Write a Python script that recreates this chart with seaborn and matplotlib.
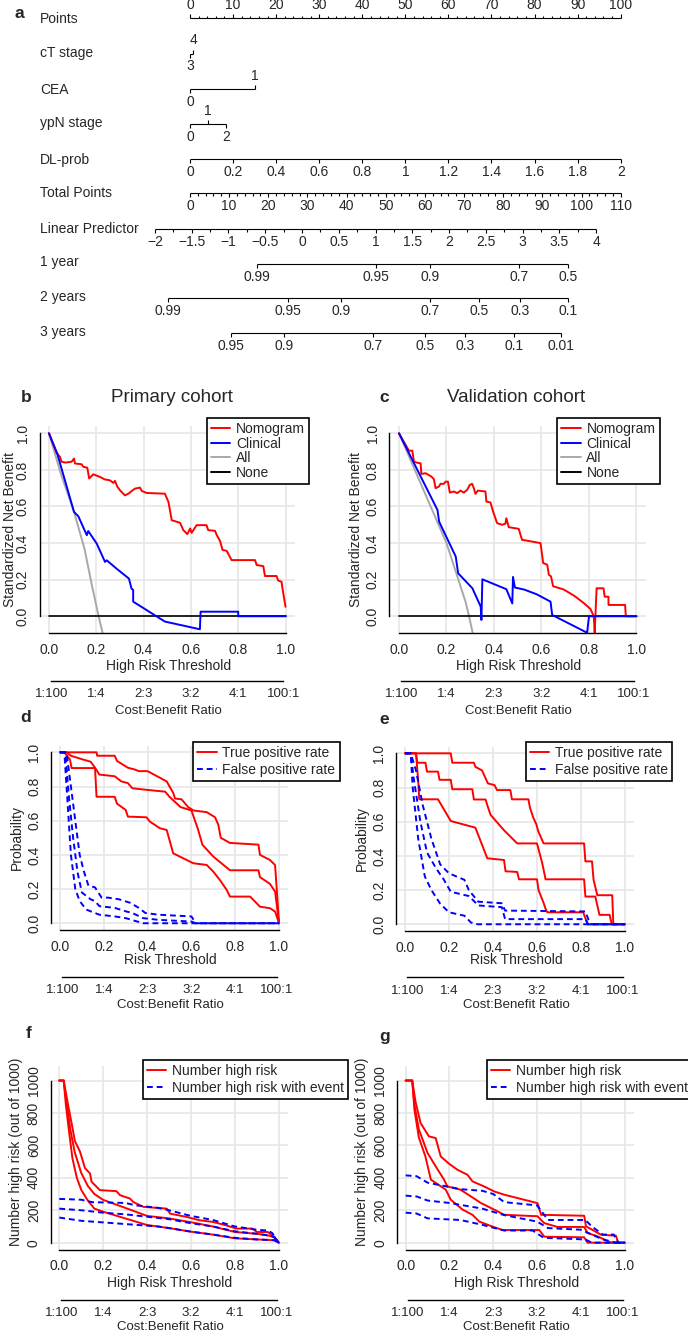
import matplotlib
matplotlib.use('Agg')
import matplotlib.pyplot as plt
from matplotlib.lines import Line2D
import seaborn as sns

sns.set_style('white')
plt.rcParams['font.family'] = ['Liberation Sans', 'DejaVu Sans']

W, H = 688, 1332
RED, BLUE, GREY = '#FF0000', '#0000FF', '#A8A8A8'
FS = 10

# ---------------- panel a: nomogram ----------------
points_values = list(range(0, 101, 10))
ct_labels = ['3', '4']
ct_points = [0, 0.7]
cea_labels = ['0', '1']
cea_points = [0, 15]
ypn_labels = ['0', '1', '2']
ypn_points = [0, 4.2, 8.4]
dl_values = [0, 0.2, 0.4, 0.6, 0.8, 1, 1.2, 1.4, 1.6, 1.8, 2]
total_values = list(range(0, 111, 10))
lp_values = [-2, -1.5, -1, -0.5, 0, 0.5, 1, 1.5, 2, 2.5, 3, 3.5, 4]
lp_zero_points = 26.0      # nomogram points where linear predictor = 0
lp_points_per_unit = 17.07
surv1_labels = ['0.99', '0.95', '0.9', '0.7', '0.5']
surv1_lp = [-0.612, 1.011, 1.741, 2.952, 3.623]
surv2_labels = ['0.99', '0.95', '0.9', '0.7', '0.5', '0.3', '0.1']
surv2_lp = [-1.819, -0.186, 0.531, 1.741, 2.408, 2.962, 3.615]
surv3_labels = ['0.95', '0.9', '0.7', '0.5', '0.3', '0.1', '0.01']
surv3_lp = [-0.966, -0.249, 0.966, 1.673, 2.218, 2.880, 3.528]

# ---------------- panels b/c: decision curves ----------------
b_nomo_x = [0, 0.032, 0.046, 0.053, 0.07, 0.096, 0.106, 0.11, 0.138, 0.145, 0.162, 0.17, 0.187, 0.215, 0.236,
            0.258, 0.272, 0.279, 0.289, 0.30, 0.321, 0.336, 0.35, 0.364, 0.385, 0.392, 0.413, 0.49, 0.505, 0.519,
            0.554, 0.568, 0.585, 0.597, 0.603, 0.624, 0.666, 0.673, 0.702, 0.709, 0.723, 0.734, 0.751, 0.772, 0.871,
            0.878, 0.906, 0.913, 0.962, 0.969, 0.983, 0.987, 1.0]
b_nomo_y = [1.0, 0.894, 0.872, 0.845, 0.84, 0.845, 0.862, 0.835, 0.831, 0.817, 0.812, 0.753, 0.776, 0.762, 0.748,
            0.743, 0.729, 0.74, 0.708, 0.689, 0.661, 0.67, 0.685, 0.698, 0.703, 0.685, 0.674, 0.67, 0.625, 0.525,
            0.511, 0.471, 0.449, 0.48, 0.456, 0.498, 0.498, 0.471, 0.467, 0.444, 0.412, 0.362, 0.358, 0.307, 0.307,
            0.28, 0.274, 0.22, 0.22, 0.195, 0.189, 0.152, 0.052]
b_clin_x = [0, 0.035, 0.106, 0.124, 0.16, 0.166, 0.202, 0.237, 0.244, 0.286, 0.338, 0.349, 0.356, 0.356, 0.49,
            0.638, 0.641, 0.80, 0.80, 1.0]
b_clin_y = [1.0, 0.889, 0.57, 0.547, 0.443, 0.466, 0.397, 0.297, 0.306, 0.26, 0.206, 0.151, 0.144, 0.08, -0.029,
            -0.071, 0.025, 0.025, 0.0, 0.0]
b_all_x = [0, 0.05, 0.106, 0.15, 0.183, 0.21, 0.227]
b_all_y = [1.0, 0.78, 0.57, 0.37, 0.16, 0.0, -0.093]

c_nomo_x = [0, 0.042, 0.056, 0.063, 0.074, 0.091, 0.094, 0.112, 0.136, 0.147, 0.154, 0.168, 0.175, 0.189, 0.196,
            0.206, 0.214, 0.231, 0.245, 0.259, 0.273, 0.287, 0.298, 0.308, 0.315, 0.322, 0.332, 0.364, 0.368, 0.385,
            0.396, 0.413, 0.434, 0.448, 0.452, 0.462, 0.504, 0.518, 0.596, 0.607, 0.624, 0.631, 0.64, 0.649, 0.694,
            0.74, 0.78, 0.806, 0.82, 0.824, 0.832, 0.836, 0.861, 0.866, 0.882, 0.882, 0.952, 0.955, 1.0]
c_nomo_y = [1.0, 0.905, 0.905, 0.845, 0.84, 0.836, 0.778, 0.782, 0.764, 0.749, 0.70, 0.709, 0.724, 0.724, 0.736,
            0.736, 0.676, 0.682, 0.673, 0.687, 0.676, 0.691, 0.718, 0.724, 0.70, 0.669, 0.687, 0.682, 0.627, 0.622,
            0.573, 0.509, 0.50, 0.506, 0.536, 0.487, 0.478, 0.418, 0.40, 0.291, 0.282, 0.227, 0.218, 0.164, 0.146,
            0.11, 0.07, 0.04, 0.0, -0.09, 0.153, 0.153, 0.153, 0.107, 0.107, 0.062, 0.062, 0.0, 0.0]
c_clin_x = [0, 0.162, 0.169, 0.239, 0.249, 0.309, 0.344, 0.347, 0.351, 0.452, 0.477, 0.48, 0.488, 0.527, 0.58,
            0.638, 0.645, 0.792, 0.80, 1.0]
c_clin_y = [1.0, 0.581, 0.517, 0.326, 0.235, 0.153, 0.053, -0.02, 0.202, 0.148, 0.07, 0.215, 0.157, 0.146, 0.12,
            0.08, 0.007, -0.09, 0.0, 0.0]
c_all_x = [0, 0.08, 0.16, 0.2, 0.245, 0.28, 0.295, 0.31]
c_all_y = [1.0, 0.76, 0.52, 0.40, 0.22, 0.08, 0.0, -0.09]

# ---------------- panels d/e: true / false positive rate ----------------
d_tpr_hi_x = [0, 0.167, 0.17, 0.25, 0.26, 0.31, 0.34, 0.36, 0.40, 0.487, 0.518, 0.525, 0.555, 0.585, 0.609,
              0.67, 0.708, 0.723, 0.734, 0.776, 0.906, 0.913, 0.959, 0.982, 1.0]
d_tpr_hi_y = [1.0, 1.0, 0.98, 0.98, 0.95, 0.91, 0.90, 0.89, 0.89, 0.83, 0.76, 0.73, 0.725, 0.68, 0.66,
              0.65, 0.62, 0.575, 0.50, 0.47, 0.46, 0.40, 0.37, 0.34, 0.0]
d_tpr_mid_x = [0, 0.03, 0.05, 0.1, 0.14, 0.16, 0.18, 0.25, 0.28, 0.31, 0.33, 0.40, 0.48, 0.50, 0.55, 0.60, 0.63,
               0.65, 0.70, 0.776, 0.906, 0.913, 0.959, 0.982, 1.0]
d_tpr_mid_y = [1.0, 1.0, 0.98, 0.96, 0.945, 0.91, 0.87, 0.86, 0.83, 0.82, 0.79, 0.78, 0.77, 0.74, 0.68, 0.66, 0.55,
               0.46, 0.39, 0.31, 0.31, 0.27, 0.23, 0.185, 0.0]
d_tpr_lo_x = [0, 0.02, 0.046, 0.053, 0.16, 0.167, 0.25, 0.26, 0.30, 0.31, 0.395, 0.41, 0.456, 0.487, 0.50, 0.517,
              0.563, 0.609, 0.67, 0.70, 0.73, 0.761, 0.776, 0.868, 0.913, 0.959, 0.982, 1.0]
d_tpr_lo_y = [1.0, 1.0, 0.957, 0.908, 0.908, 0.74, 0.74, 0.70, 0.663, 0.624, 0.62, 0.595, 0.556, 0.546, 0.487,
              0.409, 0.38, 0.351, 0.341, 0.302, 0.253, 0.195, 0.156, 0.156, 0.097, 0.088, 0.068, 0.0]
d_fpr_hi_x = [0, 0.03, 0.05, 0.07, 0.09, 0.11, 0.13, 0.16, 0.19, 0.22, 0.27, 0.32, 0.36, 0.39, 0.45, 0.60, 0.62, 1.0]
d_fpr_hi_y = [1.0, 1.0, 0.8, 0.6, 0.4, 0.3, 0.22, 0.21, 0.15, 0.15, 0.14, 0.12, 0.09, 0.06, 0.05, 0.04, 0.0, 0.0]
d_fpr_mid_x = [0, 0.025, 0.04, 0.06, 0.08, 0.10, 0.14, 0.16, 0.18, 0.25, 0.30, 0.33, 0.38, 0.45, 0.60, 0.62, 1.0]
d_fpr_mid_y = [1.0, 1.0, 0.75, 0.5, 0.3, 0.18, 0.14, 0.13, 0.10, 0.09, 0.07, 0.06, 0.03, 0.02, 0.01, 0.0, 0.0]
d_fpr_lo_x = [0, 0.02, 0.035, 0.05, 0.07, 0.09, 0.12, 0.18, 0.25, 0.30, 0.38, 1.0]
d_fpr_lo_y = [1.0, 1.0, 0.7, 0.4, 0.2, 0.13, 0.08, 0.05, 0.04, 0.03, 0.0, 0.0]

e_tpr_hi_x = [0, 0.208, 0.215, 0.313, 0.32, 0.35, 0.377, 0.407, 0.418, 0.479, 0.486, 0.561, 0.568, 0.583, 0.597,
              0.605, 0.63, 0.814, 0.82, 0.85, 0.857, 0.874, 0.942, 0.947, 1.0]
e_tpr_hi_y = [1.0, 1.0, 0.945, 0.945, 0.921, 0.90, 0.824, 0.814, 0.785, 0.785, 0.731, 0.731, 0.682, 0.624, 0.585,
              0.546, 0.473, 0.473, 0.368, 0.368, 0.261, 0.17, 0.17, 0.0, 0.0]
e_tpr_mid_x = [0, 0.05, 0.056, 0.093, 0.1, 0.15, 0.157, 0.208, 0.215, 0.306, 0.313, 0.366, 0.374, 0.389, 0.45,
               0.51, 0.6, 0.624, 0.639, 0.814, 0.82, 0.865, 0.884, 0.93, 0.94, 1.0]
e_tpr_mid_y = [1.0, 1.0, 0.945, 0.945, 0.893, 0.893, 0.845, 0.845, 0.79, 0.79, 0.73, 0.73, 0.697, 0.64, 0.55,
               0.473, 0.473, 0.356, 0.263, 0.263, 0.162, 0.162, 0.055, 0.055, 0.0, 0.0]
e_tpr_lo_x = [0, 0.05, 0.06, 0.065, 0.15, 0.208, 0.32, 0.374, 0.45, 0.457, 0.51, 0.518, 0.6, 0.607, 0.63, 0.639,
              0.647, 0.81, 0.83, 1.0]
e_tpr_lo_y = [1.0, 1.0, 0.838, 0.731, 0.731, 0.604, 0.565, 0.386, 0.376, 0.31, 0.306, 0.263, 0.263, 0.20, 0.125,
              0.09, 0.07, 0.07, 0.0, 0.0]
e_fpr_hi_x = [0, 0.026, 0.05, 0.08, 0.12, 0.16, 0.2, 0.27, 0.29, 0.333, 0.44, 0.455, 0.82, 0.833, 0.84, 1.0]
e_fpr_hi_y = [1.0, 1.0, 0.9, 0.7, 0.5, 0.35, 0.298, 0.26, 0.2, 0.132, 0.123, 0.08, 0.075, 0.03, 0.0, 0.0]
e_fpr_mid_x = [0, 0.026, 0.04, 0.07, 0.1, 0.14, 0.177, 0.208, 0.29, 0.31, 0.333, 0.44, 0.455, 0.82, 0.833, 1.0]
e_fpr_mid_y = [1.0, 1.0, 0.85, 0.6, 0.42, 0.33, 0.26, 0.19, 0.165, 0.14, 0.11, 0.1, 0.03, 0.03, 0.0, 0.0]
e_fpr_lo_x = [0, 0.026, 0.035, 0.06, 0.09, 0.12, 0.16, 0.2, 0.27, 0.3, 0.33, 1.0]
e_fpr_lo_y = [1.0, 1.0, 0.8, 0.5, 0.28, 0.2, 0.12, 0.07, 0.05, 0.01, 0.0, 0.0]

# ---------------- panels f/g: clinical impact ----------------
f_hr_hi_x = [0, 0.02, 0.04, 0.056, 0.071, 0.094, 0.117, 0.14, 0.147, 0.185, 0.26, 0.277, 0.322, 0.337, 0.383,
             0.49, 0.505, 0.58, 0.64, 0.70, 0.76, 0.806, 0.88, 0.9, 0.95, 0.97, 1.0]
f_hr_hi_y = [1000, 1000, 850, 738, 627, 563, 460, 427, 376, 324, 318, 293, 272, 251, 221, 210, 179, 159, 138, 128,
             107, 87, 87, 66, 66, 45, 0]
f_hr_mid_x = [0, 0.02, 0.035, 0.05, 0.07, 0.1, 0.13, 0.16, 0.2, 0.3, 0.4, 0.5, 0.6, 0.7, 0.8, 0.9, 0.95, 0.98, 1.0]
f_hr_mid_y = [1000, 1000, 850, 700, 560, 430, 350, 300, 264, 215, 165, 150, 126, 100, 66, 55, 45, 35, 0]
f_hr_lo_x = [0, 0.02, 0.03, 0.045, 0.06, 0.08, 0.1, 0.13, 0.16, 0.2, 0.3, 0.4, 0.5, 0.6, 0.7, 0.8, 0.9, 0.95, 0.98,
             1.0]
f_hr_lo_y = [1000, 1000, 850, 680, 520, 400, 326, 260, 210, 191, 150, 109, 90, 68, 50, 27, 20, 17, 15, 0]
f_ev_hi_x = [0, 0.1, 0.15, 0.3, 0.35, 0.45, 0.5, 0.6, 0.7, 0.8, 0.9, 0.95, 0.97, 1.0]
f_ev_hi_y = [270, 265, 250, 245, 230, 215, 200, 165, 140, 100, 80, 75, 60, 0]
f_ev_mid_x = [0, 0.1, 0.2, 0.3, 0.4, 0.5, 0.6, 0.7, 0.8, 0.9, 0.95, 0.98, 1.0]
f_ev_mid_y = [210, 200, 185, 175, 160, 145, 120, 100, 70, 55, 45, 35, 0]
f_ev_lo_x = [0, 0.1, 0.2, 0.3, 0.45, 0.5, 0.6, 0.7, 0.8, 0.9, 0.95, 0.98, 1.0]
f_ev_lo_y = [155, 135, 125, 115, 100, 90, 68, 50, 30, 20, 17, 15, 0]

g_hr_hi_x = [0, 0.03, 0.045, 0.068, 0.106, 0.137, 0.16, 0.198, 0.236, 0.282, 0.305, 0.358, 0.404, 0.45, 0.511,
             0.602, 0.618, 0.815, 0.823, 0.892, 0.96, 0.97, 1.0]
g_hr_hi_y = [1000, 1000, 870, 738, 656, 645, 532, 487, 450, 419, 378, 347, 316, 296, 275, 244, 172, 166, 101, 49,
             43, 0, 0]
g_hr_mid_x = [0, 0.03, 0.04, 0.06, 0.1, 0.137, 0.175, 0.19, 0.25, 0.297, 0.343, 0.404, 0.45, 0.602, 0.632, 0.693,
              0.815, 0.83, 0.876, 0.937, 1.0]
g_hr_mid_y = [1000, 1000, 850, 700, 553, 471, 389, 347, 327, 286, 245, 204, 172, 163, 121, 97, 97, 60, 39, 0, 0]
g_hr_lo_x = [0, 0.03, 0.04, 0.06, 0.09, 0.115, 0.183, 0.206, 0.26, 0.305, 0.336, 0.397, 0.442, 0.61, 0.633, 0.815,
             0.83, 1.0]
g_hr_lo_y = [1000, 1000, 820, 650, 532, 389, 327, 265, 204, 172, 130, 99, 78, 78, 37, 33, 0, 0]
g_ev_hi_x = [0, 0.05, 0.1, 0.25, 0.35, 0.4, 0.45, 0.6, 0.65, 0.82, 0.85, 0.9, 0.95, 0.97, 1.0]
g_ev_hi_y = [415, 410, 370, 330, 320, 300, 250, 230, 140, 140, 100, 50, 50, 0, 0]
g_ev_mid_x = [0, 0.05, 0.1, 0.2, 0.35, 0.45, 0.6, 0.65, 0.8, 0.85, 0.9, 0.96, 1.0]
g_ev_mid_y = [290, 285, 260, 245, 210, 170, 130, 90, 80, 50, 20, 0, 0]
g_ev_lo_x = [0, 0.05, 0.1, 0.25, 0.35, 0.45, 0.58, 0.63, 0.82, 0.85, 1.0]
g_ev_lo_y = [185, 180, 150, 140, 110, 75, 75, 30, 20, 0, 0]

thr_ticks = [0, 0.2, 0.4, 0.6, 0.8, 1.0]
cb_ticks = [0.01, 0.2, 0.4, 0.6, 0.8, 0.99]
cb_labels = ['1:100', '1:4', '2:3', '3:2', '4:1', '100:1']

fig = plt.figure(figsize=(W / 100, H / 100), dpi=100)


def rect(x0, y0, x1, y1):
    return [x0 / W, 1 - y1 / H, (x1 - x0) / W, (y1 - y0) / H]


def ftext(x, y, s, **kw):
    kw.setdefault('fontsize', FS)
    kw.setdefault('ha', 'center')
    kw.setdefault('va', 'center')
    fig.text(x / W, 1 - y / H, s, **kw)


# ---- nomogram ----
PX_PT = 4.307  # pixels per nomogram point
ax0 = fig.add_axes(rect(0, 0, W, 360))
ax0.set_xlim(-190 / PX_PT, (W - 190) / PX_PT)
ax0.set_ylim(360, 0)
ax0.axis('off')


def nomo_scale(y, pos, labels, up, minor=()):
    kw = dict(color='black', lw=0.8, solid_capstyle='butt')
    ax0.plot([min(pos), max(pos)], [y, y], **kw)
    for p, lab, u in zip(pos, labels, up):
        s = -1 if u else 1
        ax0.plot([p, p], [y, y + s * 4], **kw)
        ax0.text(p, y + (-13.5 if u else 12.5), lab, ha='center', va='center', fontsize=FS)
    for p in minor:
        s = -1 if up[0] else 1
        ax0.plot([p, p], [y, y + s * 2.5], **kw)


def lp_to_points(v):
    return lp_zero_points + lp_points_per_unit * v


def fmt(v):
    s = ('%g' % v)
    return s.replace('-', '\u2212')


rows = [('Points', 19.3), ('cT stage', 53.3), ('CEA', 90), ('ypN stage', 123.3), ('DL-prob', 160),
        ('Total Points', 193.3), ('Linear Predictor', 229), ('1 year', 262.3), ('2 years', 297.3),
        ('3 years', 331.7)]
for name, yy in rows:
    ax0.text(-150 / PX_PT, yy, name, ha='left', va='center', fontsize=FS)

nomo_scale(18.3, points_values, [str(v) for v in points_values], [True] * len(points_values),
           minor=[v for v in range(0, 101, 2) if v % 10])
nomo_scale(54, ct_points, ct_labels, [False, True])
nomo_scale(89, cea_points, cea_labels, [False, True])
nomo_scale(124.3, ypn_points, ypn_labels, [False, True, False])
nomo_scale(159.3, [v * 50 for v in dl_values], [fmt(v) for v in dl_values], [False] * len(dl_values))
nomo_scale(193.3, [v * 100 / 110 for v in total_values], [str(v) for v in total_values], [False] * len(total_values),
           minor=[v * 100 / 110 for v in range(0, 111, 2) if v % 10])
nomo_scale(229.3, [lp_to_points(v) for v in lp_values], [fmt(v) for v in lp_values], [False] * len(lp_values),
           minor=[lp_to_points(v + 0.25) for v in lp_values[:-1]])
nomo_scale(264.3, [lp_to_points(v) for v in surv1_lp], surv1_labels, [False] * 5)
nomo_scale(298.3, [lp_to_points(v) for v in surv2_lp], surv2_labels, [False] * 7)
nomo_scale(333.3, [lp_to_points(v) for v in surv3_lp], surv3_labels, [False] * 7)
ftext(19, 14, 'a', fontsize=12.5, fontweight='bold')


# ---- helpers for the curve panels ----
def curve_axes(box, ylim, yticks, ylabels):
    ax = fig.add_axes(rect(*box))
    ax.set_xticks(thr_ticks)
    ax.set_xticklabels(['%.1f' % v for v in thr_ticks])
    ax.set_yticks(yticks)
    ax.set_yticklabels(ylabels, rotation=90, va='center')
    ax.grid(True, color='#E6E6E6', lw=1.2)
    ax.set_axisbelow(True)
    for s in ['top', 'right']:
        ax.spines[s].set_visible(False)
    for s in ['left', 'bottom']:
        ax.spines[s].set_color('black')
        ax.spines[s].set_linewidth(1.0)
    ax.spines['left'].set_bounds(yticks[0], yticks[-1])
    ax.spines['bottom'].set_bounds(0, 1)
    ax.tick_params(direction='out', length=4.5, width=1.0, pad=2.5, labelsize=FS, color='black')
    return ax


def finish(ax, ylim):
    ax.set_xlim(-0.04, 1.04)
    ax.set_ylim(*ylim)
    ax.set_xlabel('')
    ax.set_ylabel('')


def cb_axis(x0, x1, y):
    cax = fig.add_axes(rect(x0, y - 10, x1, y))
    cax.set_xlim(-0.04, 1.04)
    cax.patch.set_visible(False)
    cax.set_yticks([])
    for s in ['top', 'right', 'left']:
        cax.spines[s].set_visible(False)
    cax.spines['bottom'].set_bounds(cb_ticks[0], cb_ticks[-1])
    cax.spines['bottom'].set_linewidth(1.0)
    cax.spines['bottom'].set_color('black')
    cax.set_xticks(cb_ticks)
    cax.set_xticklabels(cb_labels)
    cax.tick_params(direction='out', length=4.0, width=1.0, pad=1.2, labelsize=9.5, color='black')


def line(ax, x, y, color, dashed=False, lw=1.4):
    kw = dict(linestyle=(0, (3, 2))) if dashed else {}
    sns.lineplot(x=x, y=y, ax=ax, color=color, lw=lw, estimator=None, sort=False, legend=False, **kw)


def legend(ax, labels, styles, x, y, ls=0.1):
    handles = [Line2D([], [], color=c, lw=1.4, linestyle=(0, (3, 2)) if d else '-') for c, d in styles]
    leg = ax.legend(handles, labels, loc='upper left', bbox_to_anchor=(x / W, 1 - y / H),
                    bbox_transform=fig.transFigure, fontsize=FS, frameon=True, fancybox=False,
                    edgecolor='black', framealpha=1, borderpad=0.3, labelspacing=ls, handlelength=1.4,
                    handletextpad=0.4, borderaxespad=0)
    leg.get_frame().set_linewidth(1.2)


nb_ticks = [0, 0.2, 0.4, 0.6, 0.8, 1.0]
nb_lim = (-0.092, 1.04)
dca = [((39.5, 426, 295, 633.1), 'b', 26, 'Primary cohort', 171.5, 10,
        b_all_x, b_all_y, b_nomo_x, b_nomo_y, b_clin_x, b_clin_y, 206.7),
       ((389.5, 426, 646, 633.1), 'c', 384, 'Validation cohort', 516, 356,
        c_all_x, c_all_y, c_nomo_x, c_nomo_y, c_clin_x, c_clin_y, 557.3)]
for box, let, letx, title, tx, ylx, ax_, ay_, nx, ny, cx, cy, legx in dca:
    ax = curve_axes(box, nb_lim, nb_ticks, ['%.1f' % v for v in nb_ticks])
    line(ax, ax_, ay_, GREY)
    line(ax, [0, 1], [0, 0], 'black', lw=1.2)
    line(ax, nx, ny, RED)
    line(ax, cx, cy, BLUE)
    finish(ax, nb_lim)
    legend(ax, ['Nomogram', 'Clinical', 'All', 'None'],
           [(RED, False), (BLUE, False), (GREY, False), ('black', False)], legx, 417.7, ls=0.05)
    cb_axis(box[0], box[2], 680.7)
    ftext(letx, 397, let, fontsize=12.5, fontweight='bold')
    ftext(tx, 398, title, fontsize=13.5)
    ftext((box[0] + box[2]) / 2 + 1, 666, 'High Risk Threshold')
    ftext((box[0] + box[2]) / 2 + 1, 711, 'Cost:Benefit Ratio', fontsize=9.5)
    ftext(ylx, (box[1] + box[3]) / 2, 'Standardized Net Benefit', rotation=90)

pr_lim = (-0.04, 1.04)
roc = [((51.2, 745.5, 287.8, 930.1), 'd', 26, 717, 17,
        [(d_tpr_hi_x, d_tpr_hi_y), (d_tpr_mid_x, d_tpr_mid_y), (d_tpr_lo_x, d_tpr_lo_y)],
        [(d_fpr_hi_x, d_fpr_hi_y), (d_fpr_mid_x, d_fpr_mid_y), (d_fpr_lo_x, d_fpr_lo_y)], 193.3, 976.7),
       ((396.2, 746.5, 633.8, 931.1), 'e', 384, 719, 362,
        [(e_tpr_hi_x, e_tpr_hi_y), (e_tpr_mid_x, e_tpr_mid_y), (e_tpr_lo_x, e_tpr_lo_y)],
        [(e_fpr_hi_x, e_fpr_hi_y), (e_fpr_mid_x, e_fpr_mid_y), (e_fpr_lo_x, e_fpr_lo_y)], 525.7, 977.3)]
for box, let, letx, lety, ylx, tprs, fprs, legx, cby in roc:
    ax = curve_axes(box, pr_lim, nb_ticks, ['%.1f' % v for v in nb_ticks])
    for x, y in tprs:
        line(ax, x, y, RED)
    for x, y in fprs:
        line(ax, x, y, BLUE, dashed=True)
    finish(ax, pr_lim)
    legend(ax, ['True positive rate', 'False positive rate'], [(RED, False), (BLUE, True)], legx, 741.7, ls=0.2)
    cb_axis(box[0], box[2], cby)
    ftext(letx, lety, let, fontsize=12.5, fontweight='bold')
    ftext((box[0] + box[2]) / 2 + 1, 960, 'Risk Threshold')
    ftext((box[0] + box[2]) / 2 + 1, 1004.5, 'Cost:Benefit Ratio', fontsize=9.5)
    ftext(ylx, (box[1] + box[3]) / 2, 'Probability', rotation=90)

ci_ticks = [0, 200, 400, 600, 800, 1000]
ci_lim = (-42, 1092)
imp = [((50.5, 1065.6, 287.5, 1249.5), 'f', 29, 1033, 16,
        [(f_hr_hi_x, f_hr_hi_y), (f_hr_mid_x, f_hr_mid_y), (f_hr_lo_x, f_hr_lo_y)],
        [(f_ev_hi_x, f_ev_hi_y), (f_ev_mid_x, f_ev_mid_y), (f_ev_lo_x, f_ev_lo_y)], 142.7),
       ((396.9, 1065.6, 633.5, 1249.5), 'g', 385, 1036, 362,
        [(g_hr_hi_x, g_hr_hi_y), (g_hr_mid_x, g_hr_mid_y), (g_hr_lo_x, g_hr_lo_y)],
        [(g_ev_hi_x, g_ev_hi_y), (g_ev_mid_x, g_ev_mid_y), (g_ev_lo_x, g_ev_lo_y)], 486.7)]
for box, let, letx, lety, ylx, hrs, evs, legx in imp:
    ax = curve_axes(box, ci_lim, ci_ticks, [str(v) for v in ci_ticks])
    for x, y in hrs:
        line(ax, x, y, RED)
    for x, y in evs:
        line(ax, x, y, BLUE, dashed=True)
    finish(ax, ci_lim)
    legend(ax, ['Number high risk', 'Number high risk with event'], [(RED, False), (BLUE, True)],
           legx, 1060, ls=0.2)
    cb_axis(box[0], box[2], 1299.5)
    ftext(letx, lety, let, fontsize=12.5, fontweight='bold')
    ftext((box[0] + box[2]) / 2 + 1, 1283.3, 'High Risk Threshold')
    ftext((box[0] + box[2]) / 2 + 1, 1326.5, 'Cost:Benefit Ratio', fontsize=9.5)
    ftext(ylx, (box[1] + box[3]) / 2 - 6, 'Number high risk (out of 1000)', rotation=90)

fig.savefig('out.png', dpi=100)
